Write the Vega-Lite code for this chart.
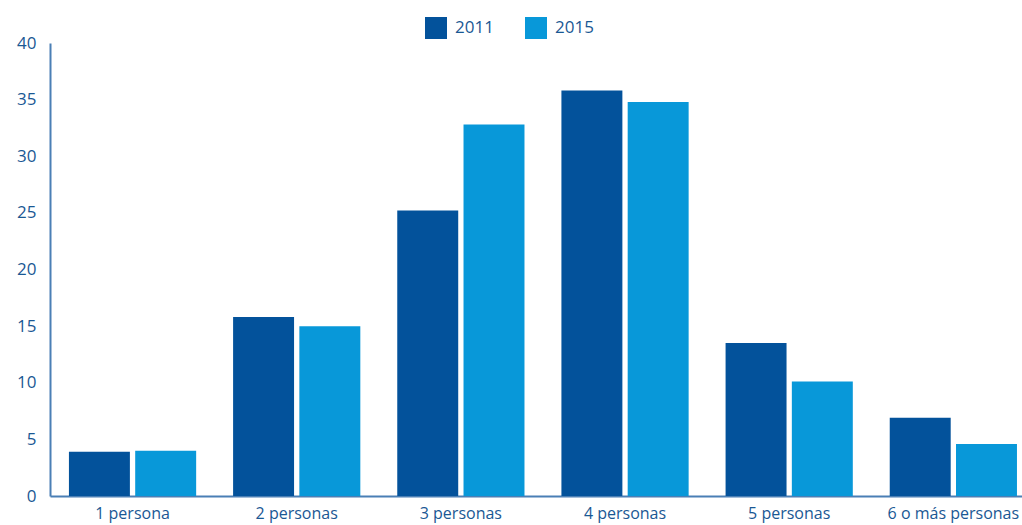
{
  "$schema": "https://vega.github.io/schema/vega-lite/v6.json",
  "width": 1022,
  "height": 525,
  "autosize": {"type": "fit", "contains": "padding"},
  "padding": {"left": 16, "top": 34, "right": 0, "bottom": 4},
  "config": {
    "view": {"stroke": null},
    "font": "Open Sans"
  },
  "data": {
    "values": [
      {"hogar": "1 persona", "year": "2011", "value": 3.9},
      {"hogar": "1 persona", "year": "2015", "value": 4.0},
      {"hogar": "2 personas", "year": "2011", "value": 15.8},
      {"hogar": "2 personas", "year": "2015", "value": 15.0},
      {"hogar": "3 personas", "year": "2011", "value": 25.2},
      {"hogar": "3 personas", "year": "2015", "value": 32.8},
      {"hogar": "4 personas", "year": "2011", "value": 35.8},
      {"hogar": "4 personas", "year": "2015", "value": 34.8},
      {"hogar": "5 personas", "year": "2011", "value": 13.5},
      {"hogar": "5 personas", "year": "2015", "value": 10.1},
      {"hogar": "6 o más personas", "year": "2011", "value": 6.9},
      {"hogar": "6 o más personas", "year": "2015", "value": 4.6}
    ]
  },
  "mark": {"type": "bar"},
  "encoding": {
    "x": {
      "field": "hogar",
      "type": "nominal",
      "sort": null,
      "scale": {"paddingInner": 0.225, "paddingOuter": 0.073, "align": 0.79},
      "axis": {
        "title": null,
        "labelAngle": 0,
        "ticks": false,
        "labelPadding": 9,
        "labelFontSize": 16,
        "labelColor": "#1a5894",
        "domainColor": "#4a7fb5",
        "domainWidth": 2,
        "grid": false
      }
    },
    "xOffset": {"field": "year", "type": "nominal", "scale": {"paddingInner": 0.08}},
    "y": {
      "field": "value",
      "type": "quantitative",
      "scale": {"domain": [0, 40]},
      "axis": {
        "title": null,
        "values": [0, 5, 10, 15, 20, 25, 30, 35, 40],
        "labelOverlap": false,
        "ticks": false,
        "grid": false,
        "labelPadding": 14,
        "labelFontSize": 17,
        "labelColor": "#1a5894",
        "domainColor": "#4a7fb5",
        "domainWidth": 2
      }
    },
    "color": {
      "field": "year",
      "type": "nominal",
      "scale": {"domain": ["2011", "2015"], "range": ["#03529b", "#0898d9"]},
      "legend": {
        "title": null,
        "orient": "none",
        "legendX": 375,
        "legendY": -26,
        "padding": 0,
        "direction": "horizontal",
        "symbolType": "square",
        "symbolSize": 484,
        "symbolStrokeWidth": 0,
        "labelFontSize": 17,
        "labelColor": "#1a5894",
        "columnPadding": 31,
        "labelOffset": 8
      }
    }
  }
}
